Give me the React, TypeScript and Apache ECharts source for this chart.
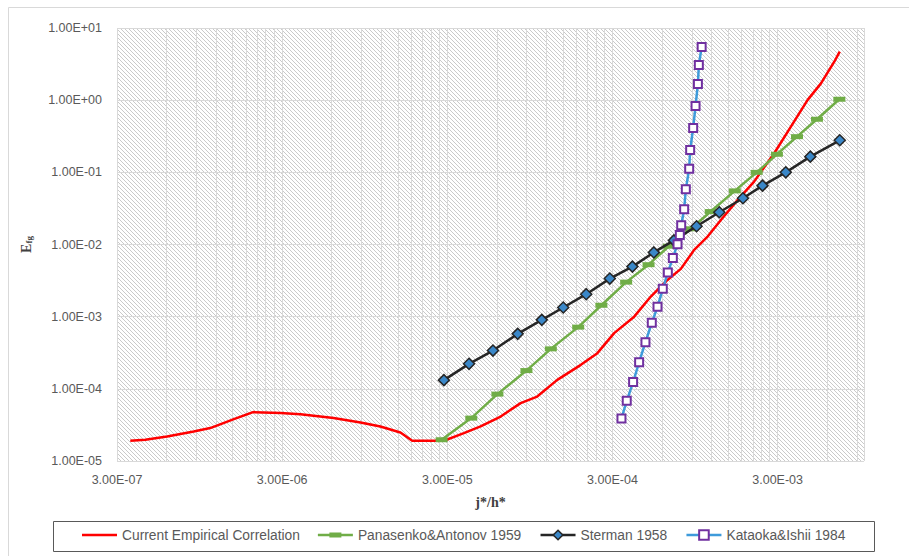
import React, { useEffect, useRef } from 'react';
import * as echarts from 'echarts';

// Axis ranges
const X_MIN = 3e-7;
const X_MAX = 1e-2;
const Y_MIN = 1e-5;
const Y_MAX = 10;

// Tick values
const xMajorTicks = [3e-7, 3e-6, 3e-5, 3e-4, 3e-3];
const yTicks = [1e-5, 1e-4, 1e-3, 1e-2, 1e-1, 1, 10];
const minorMultipliers = [2, 3, 4, 5, 6, 7, 8, 9];

const seriesNames = [
  'Current Empirical Correlation',
  'Panasenko&Antonov 1959',
  'Sterman 1958',
  'Kataoka&Ishii 1984',
];

// Current Empirical Correlation
const currentX = [
  3.61e-7, 4.45e-7, 6.03e-7, 8.74e-7, 1.1e-6, 1.53e-6, 2.0e-6, 2.93e-6, 3.87e-6, 6.14e-6,
  8.95e-6, 1.18e-5, 1.56e-5, 1.84e-5, 2.86e-5, 3.78e-5, 4.77e-5, 6.31e-5, 8.34e-5, 1.05e-4,
  1.39e-4, 1.93e-4, 2.43e-4, 3.07e-4, 4.06e-4, 5.12e-4, 6.46e-4, 7.78e-4, 9.37e-4, 1.13e-3,
  1.36e-3, 1.72e-3, 2.16e-3, 2.86e-3, 3.61e-3, 4.56e-3, 5.49e-3, 6.61e-3, 7.13e-3,
];
const currentY = [
  1.91e-5, 1.97e-5, 2.18e-5, 2.56e-5, 2.86e-5, 3.8e-5, 4.76e-5, 4.61e-5, 4.46e-5, 3.93e-5,
  3.41e-5, 3.01e-5, 2.48e-5, 1.91e-5, 1.91e-5, 2.43e-5, 3.01e-5, 4.13e-5, 6.34e-5, 7.82e-5,
  1.33e-4, 2.15e-4, 3.12e-4, 5.91e-4, 1.0e-3, 1.9e-3, 3.23e-3, 4.59e-3, 8.42e-3, 1.29e-2,
  2.19e-2, 4.15e-2, 7.43e-2, 1.84e-1, 4.3e-1, 1.01, 1.71, 3.41, 4.7,
];

// Panasenko&Antonov 1959
const panasenkoX = [
  2.77e-5, 4.19e-5, 6.03e-5, 9.04e-5, 1.27e-4, 1.86e-4, 2.57e-4, 3.63e-4, 4.96e-4, 6.58e-4,
  8.95e-4, 1.18e-3, 1.65e-3, 2.24e-3, 2.97e-3, 3.93e-3, 5.19e-3, 7.09e-3,
];
const panasenkoY = [
  1.97e-5, 3.93e-5, 8.45e-5, 1.79e-4, 3.58e-4, 7.16e-4, 1.44e-3, 3.01e-3, 5.25e-3, 9.47e-3,
  1.65e-2, 2.86e-2, 5.53e-2, 1.0e-1, 1.78e-1, 3.12e-1, 5.44e-1, 1.03,
];

// Sterman 1958
const stermanX = [
  2.86e-5, 4.06e-5, 5.67e-5, 8.0e-5, 1.12e-4, 1.51e-4, 2.08e-4, 2.89e-4, 3.96e-4, 5.34e-4,
  7.06e-4, 9.69e-4, 1.33e-3, 1.85e-3, 2.43e-3, 3.36e-3, 4.73e-3, 7.13e-3,
];
const stermanY = [
  1.32e-4, 2.22e-4, 3.39e-4, 5.78e-4, 9.03e-4, 1.34e-3, 2.05e-3, 3.37e-3, 4.94e-3, 7.77e-3,
  1.14e-2, 1.79e-2, 2.8e-2, 4.38e-2, 6.54e-2, 1.0e-1, 1.65e-1, 2.78e-1,
];

// Kataoka&Ishii 1984
const kataokaX = [
  3.4e-4, 3.66e-4, 4.0e-4, 4.35e-4, 4.75e-4, 5.19e-4, 5.62e-4, 6.05e-4, 6.49e-4, 6.96e-4,
  7.43e-4, 7.67e-4, 7.82e-4, 8.15e-4, 8.34e-4, 8.74e-4, 8.86e-4, 9.24e-4, 9.55e-4, 9.87e-4,
  1.0e-3, 1.04e-3,
];
const kataokaY = [
  3.88e-5, 6.82e-5, 1.24e-4, 2.34e-4, 4.43e-4, 8.21e-4, 1.37e-3, 2.43e-3, 4.08e-3, 6.52e-3,
  1.01e-2, 1.35e-2, 1.85e-2, 3.08e-2, 5.83e-2, 1.12e-1, 2.04e-1, 4.12e-1, 8.31e-1, 1.68,
  3.07, 5.46,
];

function fmtExp(v: number): string {
  const [m, e] = v.toExponential(2).split('e');
  const n = parseInt(e, 10);
  return `${m}E${n < 0 ? '-' : '+'}${String(Math.abs(n)).padStart(2, '0')}`;
}

// x axis is logarithmic with its origin at X_MIN (decades counted from 3e-7)
const xPos = (v: number) => Math.log10(v / X_MIN);
const pairs = (xs: number[], ys: number[]) => xs.map((x, i) => [xPos(x), ys[i]]);

const GRID_COLOR = '#d9d9d9';
const LABEL_COLOR = '#595959';

export default function App() {
  const ref = useRef<HTMLDivElement>(null);

  useEffect(() => {
    if (!ref.current) return;
    const chart = echarts.init(ref.current, undefined, { renderer: 'svg' });

    const canvas = document.createElement('canvas');
    canvas.width = 4;
    canvas.height = 4;
    const ctx = canvas.getContext('2d')!;
    ctx.fillStyle = '#ffffff';
    ctx.fillRect(0, 0, 4, 4);
    ctx.fillStyle = '#cacaca';
    for (let i = 0; i < 4; i++) ctx.fillRect(i, i, 1, 1);

    const minorX = xMajorTicks
      .flatMap((t) => minorMultipliers.map((m) => t * m))
      .filter((v) => v < X_MAX);

    const redIcon = 'path://M0,0M35,12M0,4.75H35V7.25H0Z';
    const greenIcon = 'path://M0,0M35,12M0,4.75H11.5V3.5H23.5V4.75H35V7.25H23.5V8.5H11.5V7.25H0Z';

    chart.setOption({
      animation: false,
      backgroundColor: '#ffffff',
      grid: {
        left: 117,
        right: 45,
        top: 28,
        bottom: 95,
        show: true,
        backgroundColor: { image: canvas, repeat: 'repeat' },
        borderWidth: 0,
        containLabel: false,
        outerBoundsMode: 'none',
      },
      xAxis: {
        type: 'value',
        min: 0,
        max: xPos(X_MAX),
        interval: 1,
        name: 'j*/h*',
        nameLocation: 'middle',
        nameGap: 34,
        nameTextStyle: {
          fontFamily: 'Liberation Serif',
          fontWeight: 'bold',
          fontSize: 14,
          color: '#404040',
        },
        axisLine: { show: false },
        axisTick: { show: false },
        splitLine: { show: true, lineStyle: { color: GRID_COLOR, width: 1 } },
        axisLabel: {
          margin: 12,
          color: LABEL_COLOR,
          fontSize: 12.5,
          fontFamily: 'Liberation Sans',
          showMaxLabel: false,
          formatter: (v: number) => {
            const real = X_MIN * Math.pow(10, v);
            const nearest = xMajorTicks.reduce((a, b) =>
              Math.abs(Math.log10(b / real)) < Math.abs(Math.log10(a / real)) ? b : a
            );
            return fmtExp(nearest);
          },
        },
      },
      yAxis: {
        type: 'log',
        logBase: 10,
        min: Y_MIN,
        max: Y_MAX,
        name: '{e|E}{s|fg}',
        nameLocation: 'middle',
        nameRotate: 90,
        nameGap: 84,
        nameTextStyle: {
          rich: {
            e: {
              fontFamily: 'Liberation Serif',
              fontWeight: 'bold',
              fontSize: 14,
              color: '#404040',
              verticalAlign: 'bottom',
            },
            s: {
              fontFamily: 'Liberation Serif',
              fontWeight: 'bold',
              fontSize: 9,
              color: '#404040',
              verticalAlign: 'bottom',
              padding: [6, 0, 0, 0],
            },
          },
        },
        axisLine: { show: false },
        axisTick: { show: false },
        splitLine: { show: true, lineStyle: { color: GRID_COLOR, width: 1 } },
        axisLabel: {
          margin: 15,
          color: LABEL_COLOR,
          fontSize: 12.5,
          fontFamily: 'Liberation Sans',
          formatter: (v: number) => {
            const nearest = yTicks.reduce((a, b) =>
              Math.abs(Math.log10(b / v)) < Math.abs(Math.log10(a / v)) ? b : a
            );
            return fmtExp(nearest);
          },
        },
      },
      legend: {
        left: 82,
        top: 528,
        itemWidth: 35,
        itemHeight: 12,
        itemGap: 18,
        selectedMode: false,
        padding: 0,
        textStyle: { fontSize: 13.8, color: LABEL_COLOR, fontFamily: 'Liberation Sans' },
        lineStyle: { width: 2.5 },
        data: [
          { name: seriesNames[0], icon: redIcon },
          { name: seriesNames[1], icon: greenIcon },
          { name: seriesNames[2], itemStyle: { borderWidth: 1.5 } },
          { name: seriesNames[3], itemStyle: { borderWidth: 2 } },
        ],
      },
      graphic: [
        {
          type: 'rect',
          silent: true,
          z: -10,
          shape: { x: 8.5, y: 7.5, width: 1000, height: 1000 },
          style: { fill: 'none', stroke: '#d9d9d9', lineWidth: 1 },
        },
        {
          type: 'rect',
          silent: true,
          shape: { x: 53.5, y: 521.5, width: 821, height: 30 },
          style: { fill: 'none', stroke: '#595959', lineWidth: 1 },
        },
      ],
      series: [
        {
          name: seriesNames[0],
          type: 'line',
          data: pairs(currentX, currentY),
          color: '#FF0000',
          symbol: 'none',
          showSymbol: false,
          lineStyle: { color: '#FF0000', width: 2.5 },
          itemStyle: { color: '#FF0000', borderWidth: 0 },
          z: 2,
          markLine: {
            silent: true,
            z: 1,
            animation: false,
            symbol: ['none', 'none'],
            label: { show: false },
            emphasis: { disabled: true },
            lineStyle: { color: GRID_COLOR, width: 1, type: 'solid' },
            data: minorX.map((v) => ({ xAxis: xPos(v) })),
          },
        },
        {
          name: seriesNames[1],
          type: 'line',
          data: pairs(panasenkoX, panasenkoY),
          color: '#70AD47',
          symbol: 'rect',
          symbolSize: [12, 5],
          lineStyle: { color: '#70AD47', width: 2.5 },
          itemStyle: { color: '#70AD47', borderWidth: 0 },
          z: 3,
        },
        {
          name: seriesNames[2],
          type: 'line',
          data: pairs(stermanX, stermanY),
          color: '#3A87C8',
          symbol: 'diamond',
          symbolSize: 11,
          lineStyle: { color: '#262626', width: 2.5 },
          itemStyle: { color: '#3A87C8', borderColor: '#262626', borderWidth: 1.5 },
          z: 4,
        },
        {
          name: seriesNames[3],
          type: 'line',
          data: pairs(kataokaX, kataokaY),
          color: '#7030A0',
          symbol: 'rect',
          symbolSize: 8,
          lineStyle: { color: '#3E9BDB', width: 2.5 },
          itemStyle: { color: '#ffffff', borderColor: '#7030A0', borderWidth: 2 },
          z: 5,
        },
      ],
    });

    return () => chart.dispose();
  }, []);

  return (
    <div
      ref={ref}
      style={{ position: 'absolute', left: 0, top: 0, width: 909, height: 556 }}
    />
  );
}
